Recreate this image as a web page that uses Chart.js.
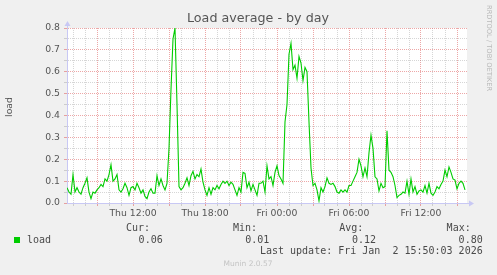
<!DOCTYPE html>
<html><head><meta charset="utf-8">
<script src="https://cdn.jsdelivr.net/npm/chart.js@4/dist/chart.umd.min.js"></script>
<style>html,body{margin:0;padding:0;background:#F0F0F0;overflow:hidden}canvas{display:block}</style>
</head><body><canvas id="c" width="497" height="275"></canvas>
<script>
// ---- data ----
const startHour = 6.5;          // Thu 06:30 (hours since Thu 00:00)
const endHour = 6.5 + 400 / 12; // Fri 15:50
const stepHours = 1 / 6;        // 10 minutes per sample
const loadValues = [
  0.07,0.05,0.04,0.13,0.05,0.07,0.05,0.04,0.07,0.09,
  0.115,0.05,0.02,0.05,0.045,0.06,0.07,0.085,0.075,0.11,
  0.1,0.13,0.175,0.1,0.11,0.13,0.06,0.05,0.065,0.09,
  0.07,0.035,0.07,0.075,0.06,0.09,0.07,0.045,0.06,0.03,
  0.02,0.05,0.065,0.045,0.045,0.125,0.08,0.11,0.08,0.06,
  0.09,0.25,0.52,0.75,0.80,0.45,0.075,0.06,0.07,0.09,
  0.115,0.08,0.125,0.145,0.11,0.13,0.12,0.155,0.095,0.06,
  0.035,0.07,0.04,0.07,0.06,0.08,0.065,0.085,0.1,0.09,
  0.1,0.08,0.095,0.085,0.06,0.035,0.07,0.05,0.14,0.135,
  0.07,0.095,0.055,0.085,0.06,0.035,0.09,0.09,0.1,0.05,
  0.17,0.11,0.12,0.08,0.14,0.17,0.125,0.11,0.09,0.37,
  0.45,0.68,0.73,0.61,0.63,0.57,0.67,0.64,0.56,0.62,
  0.6,0.37,0.16,0.08,0.09,0.06,0.01,0.07,0.05,0.075,
  0.115,0.09,0.085,0.09,0.075,0.05,0.045,0.06,0.05,0.06,
  0.05,0.08,0.08,0.1,0.12,0.14,0.2,0.17,0.12,0.16,
  0.12,0.23,0.31,0.25,0.12,0.11,0.055,0.09,0.07,0.075,
  0.33,0.15,0.14,0.12,0.08,0.025,0.035,0.04,0.05,0.045,
  0.1,0.04,0.11,0.05,0.075,0.04,0.055,0.06,0.05,0.08,
  0.045,0.09,0.045,0.035,0.05,0.075,0.065,0.085,0.1,0.15,
  0.12,0.165,0.14,0.11,0.105,0.065,0.09,0.1,0.09,0.06
];
const timeTickHours = [12, 18, 24, 30, 36];
const timeTickLabels = ['Thu 12:00', 'Thu 18:00', 'Fri 00:00', 'Fri 06:00', 'Fri 12:00'];
const seriesName = 'load';
const statLabels = ['Cur:', 'Min:', 'Avg:', 'Max:'];
const statValues = ['0.06', '0.01', '0.12', '0.80'];
const titleText = 'Load average - by day';
const yAxisTitle = 'load';
const lastUpdate = 'Last update: Fri Jan  2 15:50:03 2026';
const watermark = 'RRDTOOL / TOBI OETIKER';
const footer = 'Munin 2.0.57';

// ---- styles ----
const RED = 'rgba(220,80,80,0.5)';
const GRAY = 'rgba(128,128,128,0.32)';
const AXIS = '#C8C8F4';
const TXT = '#555555';
const SANS = '"DejaVu Sans", sans-serif';
const MONO = '"DejaVu Sans Mono", monospace';

const isMajorY = v => Math.abs(Math.round(v * 10) - v * 10) < 1e-6;

const decor = {
  id: 'decor',
  beforeDraw(chart) {
    const {ctx, chartArea: a} = chart;
    ctx.save();
    ctx.fillStyle = '#F0F0F0';
    ctx.fillRect(0, 0, chart.width, chart.height);
    ctx.fillStyle = '#FFFFFF';
    ctx.fillRect(a.left, a.top, a.right - a.left, a.bottom - a.top);
    ctx.restore();
  },
  afterDraw(chart) {
    const {ctx, chartArea: a} = chart;
    ctx.save();
    // axis arrows
    ctx.strokeStyle = AXIS; ctx.fillStyle = AXIS; ctx.lineWidth = 1;
    ctx.beginPath(); ctx.moveTo(a.left + 0.5, a.top); ctx.lineTo(a.left + 0.5, a.top - 3); ctx.stroke();
    ctx.beginPath(); ctx.moveTo(a.left + 0.5, a.top - 7); ctx.lineTo(a.left - 2.5, a.top - 2); ctx.lineTo(a.left + 3.5, a.top - 2); ctx.closePath(); ctx.fill();
    ctx.beginPath(); ctx.moveTo(a.right, a.bottom + 0.5); ctx.lineTo(a.right + 2, a.bottom + 0.5); ctx.stroke();
    ctx.beginPath(); ctx.moveTo(a.right + 7, a.bottom + 0.5); ctx.lineTo(a.right + 2, a.bottom - 2.5); ctx.lineTo(a.right + 2, a.bottom + 3.5); ctx.closePath(); ctx.fill();

    // title
    ctx.fillStyle = TXT; ctx.font = '12.7px ' + SANS; ctx.textAlign = 'center'; ctx.textBaseline = 'middle';
    ctx.fillText(titleText, 258, 19);
    // y title
    ctx.save(); ctx.translate(10, 107); ctx.rotate(-Math.PI / 2);
    ctx.font = '9.3px ' + SANS; ctx.fillText(yAxisTitle, 0, 0); ctx.restore();
    // watermark
    ctx.save(); ctx.translate(488.5, 5); ctx.rotate(Math.PI / 2);
    ctx.fillStyle = '#B8B8B8'; ctx.font = '6.7px ' + SANS; ctx.textAlign = 'left';
    ctx.fillText(watermark, 0, 0); ctx.restore();
    // footer
    ctx.fillStyle = '#C4C4C4'; ctx.font = '7.5px ' + SANS; ctx.textAlign = 'center';
    ctx.fillText(footer, 248, 264);

    // legend
    ctx.fillStyle = '#00CC00'; ctx.fillRect(14, 237, 6, 6);
    ctx.fillStyle = '#4A4A4A'; ctx.font = '10px ' + MONO; ctx.textAlign = 'left';
    ctx.fillText(seriesName, 27, 240);
    const labelRight = [150, 257, 363.3, 470.7];
    const valueRight = [162.7, 269.3, 376, 482.7];
    ctx.textAlign = 'right';
    statLabels.forEach((s, i) => ctx.fillText(s, labelRight[i], 228));
    statValues.forEach((s, i) => ctx.fillText(s, valueRight[i], 240));
    ctx.fillText(lastUpdate, 482.7, 251.5);
    ctx.restore();
  }
};

new Chart(document.getElementById('c').getContext('2d'), {
  type: 'line',
  data: {
    datasets: [{
      label: seriesName,
      data: loadValues.map((v, i) => ({x: startHour + i * stepHours, y: v})),
      borderColor: '#00CC00', borderWidth: 1.1, pointRadius: 0, tension: 0, fill: false
    }]
  },
  options: {
    responsive: false, animation: false, devicePixelRatio: 1,
    layout: {padding: {left: 0, top: 28, right: 30, bottom: 0}},
    plugins: {legend: {display: false}, tooltip: {enabled: false}, title: {display: false}},
    scales: {
      x: {
        type: 'linear', min: startHour, max: endHour,
        afterBuildTicks: s => { const t = []; for (let h = Math.ceil(startHour); h <= Math.floor(endHour); h++) t.push({value: h}); s.ticks = t; },
        afterFit: s => { s.height = 72; },
        ticks: {
          autoSkip: false, maxRotation: 0, minRotation: 0, padding: 2,
          color: TXT, font: {family: SANS, size: 9.3},
          callback: v => { const k = timeTickHours.indexOf(v); return k >= 0 ? timeTickLabels[k] : ''; }
        },
        grid: {
          color: c => (c.tick && c.tick.value % 3 === 0) ? RED : GRAY,
          tickColor: c => (c.tick && c.tick.value % 3 === 0) ? RED : GRAY,
          tickLength: 3, lineWidth: 1
        },
        border: {display: true, color: AXIS, width: 1, dash: [1, 1]}
      },
      y: {
        min: 0, max: 0.8,
        afterFit: s => { s.width = 67; },
        ticks: {
          stepSize: 0.05, autoSkip: false, padding: 4,
          color: TXT, font: {family: SANS, size: 9.3},
          callback: v => isMajorY(v) ? v.toFixed(1) : ''
        },
        grid: {
          color: c => (c.tick && isMajorY(c.tick.value)) ? RED : GRAY,
          tickColor: c => (c.tick && isMajorY(c.tick.value)) ? RED : GRAY,
          tickLength: 3, lineWidth: 1
        },
        border: {display: true, color: AXIS, width: 1, dash: [1, 1]}
      }
    }
  },
  plugins: [decor]
});
</script></body></html>
